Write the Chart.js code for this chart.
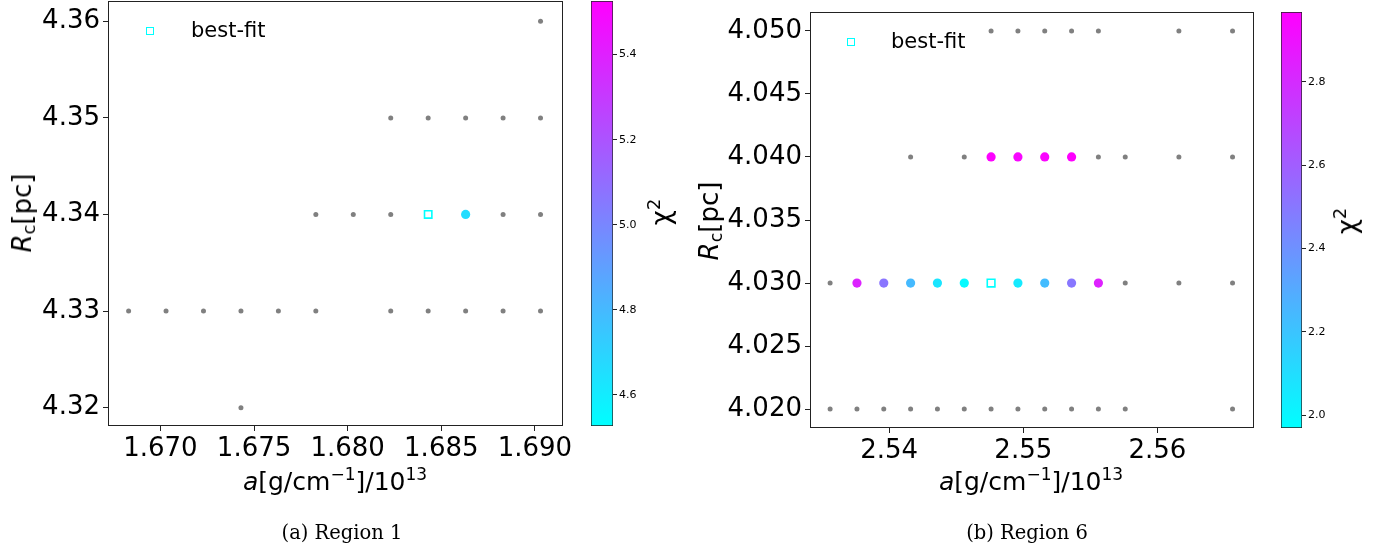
<!DOCTYPE html>
<html lang="en">
<head>
<meta charset="UTF-8">
<title>Region 1 / Region 6 chi-square grids</title>
<script src="https://cdn.jsdelivr.net/npm/chart.js"></script>
<style>
  body { margin: 0; background: #fff; font-family: 'DejaVu Sans', sans-serif; }
  #page { position: relative; width: 1387px; height: 552px; overflow: hidden; }
  canvas { position: absolute; }
  .txt { position: absolute; white-space: nowrap; color: #000; line-height: 1; transform: translate(-50%, -50%); }
  .ytitle { transform: translate(-50%, -50%) rotate(-90deg); }
  .txt sup { font-size: 68%; vertical-align: 0.55em; line-height: 0; }
  .txt sub { font-size: 68%; vertical-align: -0.25em; line-height: 0; }
  .cap { font-family: 'DejaVu Serif', serif; font-size: 19.5px; }
  .leg { position: absolute; font-size: 21px; line-height: 1; transform: translateY(-50%); }
  .sq { position: absolute; width: 6px; height: 6px; border: 1.5px solid #00ffff; transform: translate(-50%, -50%); }
</style>
</head>
<body>
<div id="page">
  <canvas id="main1" width="580" height="500" style="left:0;top:0"></canvas>
  <canvas id="cbar1" width="60" height="440" style="left:591px;top:0"></canvas>
  <canvas id="main6" width="570" height="500" style="left:700px;top:0"></canvas>
  <canvas id="cbar6" width="60" height="440" style="left:1281px;top:0"></canvas>

  <div class="sq" style="left:150px;top:31px"></div>
  <div class="leg" style="left:191px;top:30px">best-fit</div>
  <div class="sq" style="left:851px;top:42px"></div>
  <div class="leg" style="left:891px;top:41px">best-fit</div>

  <div class="txt" style="left:335px;top:481px;font-size:25px"><i>a</i>[g/cm<sup>−1</sup>]/10<sup>13</sup></div>
  <div class="txt" style="left:1031px;top:481px;font-size:25px"><i>a</i>[g/cm<sup>−1</sup>]/10<sup>13</sup></div>
  <div class="txt ytitle" style="left:22px;top:213px;font-size:26px"><i>R</i><sub>c</sub>[pc]</div>
  <div class="txt ytitle" style="left:709px;top:221px;font-size:26px"><i>R</i><sub>c</sub>[pc]</div>
  <div class="txt ytitle" style="left:661px;top:212px;font-size:26px">χ<sup>2</sup></div>
  <div class="txt ytitle" style="left:1347px;top:221px;font-size:26px">χ<sup>2</sup></div>

  <div class="txt cap" style="left:342px;top:533px">(a) Region 1</div>
  <div class="txt cap" style="left:1027px;top:533px">(b) Region 6</div>
</div>

<script>
// ---- Region 1 ----
const r1GrayA = [1.6903,
  1.6823, 1.6843, 1.6863, 1.6883, 1.6903,
  1.6783, 1.6803, 1.6823, 1.6883, 1.6903,
  1.6683, 1.6703, 1.6723, 1.6743, 1.6763, 1.6783, 1.6823, 1.6843, 1.6863, 1.6883, 1.6903,
  1.6743];
const r1GrayRc = [4.36,
  4.35, 4.35, 4.35, 4.35, 4.35,
  4.34, 4.34, 4.34, 4.34, 4.34,
  4.33, 4.33, 4.33, 4.33, 4.33, 4.33, 4.33, 4.33, 4.33, 4.33, 4.33,
  4.32];
const r1FitA = [1.6863];
const r1FitRc = [4.34];
const r1FitChi2 = [4.66];
const r1BestA = [1.6843];
const r1BestRc = [4.34];
const r1XTicks = [1.670, 1.675, 1.680, 1.685, 1.690];
const r1YTicks = [4.32, 4.33, 4.34, 4.35, 4.36];
const r1XRange = [1.6672, 1.6915];
const r1YRange = [4.3181, 4.3621];
const r1Chi2Range = [4.527, 5.526];
const r1Chi2Ticks = [4.6, 4.8, 5.0, 5.2, 5.4];

// ---- Region 6 ----
const r6GrayA = [2.5476, 2.5496, 2.5516, 2.5536, 2.5556, 2.5616, 2.5656,
  2.5416, 2.5456, 2.5556, 2.5576, 2.5616, 2.5656,
  2.5356, 2.5576, 2.5616, 2.5656,
  2.5356, 2.5376, 2.5396, 2.5416, 2.5436, 2.5456, 2.5476, 2.5496, 2.5516, 2.5536, 2.5556, 2.5576, 2.5656];
const r6GrayRc = [4.050, 4.050, 4.050, 4.050, 4.050, 4.050, 4.050,
  4.040, 4.040, 4.040, 4.040, 4.040, 4.040,
  4.030, 4.030, 4.030, 4.030,
  4.020, 4.020, 4.020, 4.020, 4.020, 4.020, 4.020, 4.020, 4.020, 4.020, 4.020, 4.020, 4.020];
const r6FitA = [2.5476, 2.5496, 2.5516, 2.5536,
  2.5376, 2.5396, 2.5416, 2.5436, 2.5456, 2.5496, 2.5516, 2.5536, 2.5556];
const r6FitRc = [4.040, 4.040, 4.040, 4.040,
  4.030, 4.030, 4.030, 4.030, 4.030, 4.030, 4.030, 4.030, 4.030];
const r6FitChi2 = [2.96, 2.94, 2.95, 2.968,
  2.83, 2.51, 2.24, 2.07, 1.99, 2.05, 2.23, 2.50, 2.84];
const r6BestA = [2.5476];
const r6BestRc = [4.030];
const r6XTicks = [2.54, 2.55, 2.56];
const r6YTicks = [4.020, 4.025, 4.030, 4.035, 4.040, 4.045, 4.050];
const r6XRange = [2.5341, 2.5672];
const r6YRange = [4.0185, 4.0515];
const r6Chi2Range = [1.969, 2.968];
const r6Chi2Ticks = [2.0, 2.2, 2.4, 2.6, 2.8];

// matplotlib "cool" colormap: cyan -> magenta
function cool(v, lo, hi) {
  const t = Math.min(1, Math.max(0, (v - lo) / (hi - lo)));
  return `rgb(${Math.round(255 * t)},${Math.round(255 * (1 - t))},255)`;
}

function pts(xs, ys) {
  return xs.map((x, i) => ({ x, y: ys[i] }));
}

// scales reserve half a label at each end; drop that so the plot box sits where we want
function noEndPadding(s) {
  s.paddingTop = 0;
  s.paddingBottom = 0;
  s.paddingLeft = 0;
  s.paddingRight = 0;
}

// draw the full axes box around the plot area
const frame = {
  id: "frame",
  afterDraw(chart) {
    const { ctx, chartArea: a } = chart;
    ctx.save();
    ctx.strokeStyle = "#222";
    ctx.lineWidth = 1;
    ctx.strokeRect(Math.round(a.left) + 0.5, Math.round(a.top) + 0.5,
      Math.round(a.right - a.left) - 1, Math.round(a.bottom - a.top) - 1);
    ctx.restore();
  },
};

function mainChart(id, cfg) {
  const axisFont = { family: "'DejaVu Sans', sans-serif", size: cfg.fontSize };
  return new Chart(document.getElementById(id), {
    type: "scatter",
    data: {
      datasets: [
        {
          data: pts(cfg.bestA, cfg.bestRc),
          pointStyle: "rect",
          pointRadius: cfg.bestR,
          backgroundColor: "rgba(255,255,255,0)",
          borderColor: "#00ffff",
          borderWidth: 1.6,
        },
        {
          data: pts(cfg.fitA, cfg.fitRc),
          pointRadius: 4.6,
          backgroundColor: cfg.fitChi2.map((v) => cool(v, cfg.chi2Range[0], cfg.chi2Range[1])),
          borderWidth: 0,
        },
        {
          data: pts(cfg.grayA, cfg.grayRc),
          pointRadius: 2.5,
          backgroundColor: "#808080",
          borderWidth: 0,
        },
      ],
    },
    options: {
      responsive: false,
      animation: false,
      events: [],
      layout: { autoPadding: false, padding: cfg.padding },
      plugins: { legend: { display: false }, tooltip: { enabled: false } },
      scales: {
        x: {
          type: "linear",
          min: cfg.xRange[0],
          max: cfg.xRange[1],
          afterBuildTicks: (s) => { s.ticks = cfg.xTicks.map((value) => ({ value })); },
          afterFit: (s) => { s.height = cfg.xAxisH; noEndPadding(s); },
          ticks: { font: axisFont, color: "#000", padding: 3, maxRotation: 0,
            callback: (v) => v.toFixed(cfg.xDec) },
          grid: { drawOnChartArea: false, tickLength: 5, color: "#222" },
          border: { display: false },
        },
        y: {
          type: "linear",
          min: cfg.yRange[0],
          max: cfg.yRange[1],
          afterBuildTicks: (s) => { s.ticks = cfg.yTicks.map((value) => ({ value })); },
          afterFit: (s) => { s.width = cfg.yAxisW; noEndPadding(s); },
          ticks: { font: axisFont, color: "#000", padding: 3,
            callback: (v) => v.toFixed(cfg.yDec) },
          grid: { drawOnChartArea: false, tickLength: 5, color: "#222" },
          border: { display: false },
        },
      },
    },
    plugins: [frame],
  });
}

function colorBar(id, range, ticks, padding, axisW) {
  return new Chart(document.getElementById(id), {
    type: "bar",
    data: {
      labels: [""],
      datasets: [{
        data: [range],
        barPercentage: 1,
        categoryPercentage: 1,
        borderSkipped: false,
        borderWidth: 1,
        borderColor: "#222",
        backgroundColor: (c) => {
          const a = c.chart.chartArea;
          if (!a) return "#00ffff";
          const g = c.chart.ctx.createLinearGradient(0, a.bottom, 0, a.top);
          g.addColorStop(0, cool(range[0], range[0], range[1]));
          g.addColorStop(1, cool(range[1], range[0], range[1]));
          return g;
        },
      }],
    },
    options: {
      responsive: false,
      animation: false,
      events: [],
      layout: { autoPadding: false, padding },
      plugins: { legend: { display: false }, tooltip: { enabled: false } },
      scales: {
        x: { display: false },
        y: {
          position: "right",
          min: range[0],
          max: range[1],
          afterBuildTicks: (s) => { s.ticks = ticks.map((value) => ({ value })); },
          afterFit: (s) => { s.width = axisW; noEndPadding(s); },
          ticks: { font: { family: "'DejaVu Sans', sans-serif", size: 11 }, color: "#000", padding: 2,
            callback: (v) => v.toFixed(1) },
          grid: { drawOnChartArea: false, tickLength: 4, color: "#222" },
          border: { display: false },
        },
      },
    },
  });
}

mainChart("main1", {
  grayA: r1GrayA, grayRc: r1GrayRc,
  fitA: r1FitA, fitRc: r1FitRc, fitChi2: r1FitChi2,
  bestA: r1BestA, bestRc: r1BestRc, bestR: 5.2,
  xTicks: r1XTicks, yTicks: r1YTicks, xRange: r1XRange, yRange: r1YRange,
  chi2Range: r1Chi2Range, xDec: 3, yDec: 2, fontSize: 26,
  padding: { top: 1, right: 17, bottom: 0, left: 0 }, yAxisW: 108, xAxisH: 74,
});
colorBar("cbar1", r1Chi2Range, r1Chi2Ticks, { top: 1, bottom: 14, left: 0, right: 0 }, 38);

mainChart("main6", {
  grayA: r6GrayA, grayRc: r6GrayRc,
  fitA: r6FitA, fitRc: r6FitRc, fitChi2: r6FitChi2,
  bestA: r6BestA, bestRc: r6BestRc, bestR: 5.4,
  xTicks: r6XTicks, yTicks: r6YTicks, xRange: r6XRange, yRange: r6YRange,
  chi2Range: r6Chi2Range, xDec: 2, yDec: 3, fontSize: 26,
  padding: { top: 12, right: 16, bottom: 0, left: 0 }, yAxisW: 110, xAxisH: 72,
});
colorBar("cbar6", r6Chi2Range, r6Chi2Ticks, { top: 12, bottom: 12, left: 0, right: 0 }, 39);
</script>
</body>
</html>
